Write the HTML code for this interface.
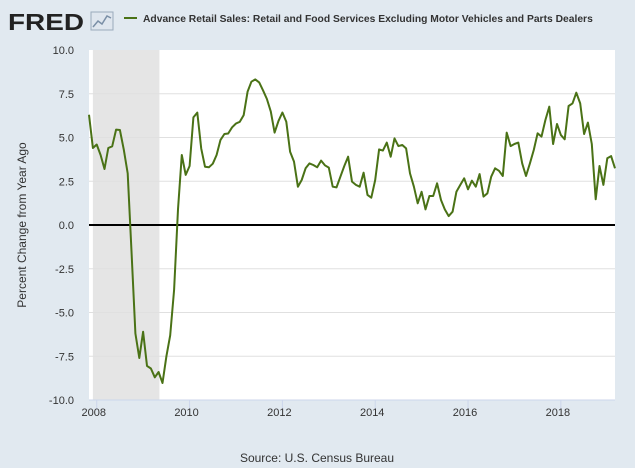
<!DOCTYPE html>
<html><head><meta charset="utf-8">
<style>
body{margin:0;background:#e1e9f0;font-family:"Liberation Sans",sans-serif;}
#wrap{position:relative;width:635px;height:468px;overflow:hidden;background:#e1e9f0;}
</style></head>
<body>
<div id="wrap">
<svg id="chart" width="635" height="468" xmlns="http://www.w3.org/2000/svg">
  <g>
    <text x="8" y="30" font-family="Liberation Sans, sans-serif" font-size="23" font-weight="bold" fill="#222" textLength="76" lengthAdjust="spacingAndGlyphs">FRED</text>
    <rect x="91" y="12" width="22" height="18" fill="#dfe6ee" stroke="#9aaabb" stroke-width="1"/>
    <polyline points="93,27 98,21 102,24 107,16 111,18" fill="none" stroke="#7a8fa6" stroke-width="1.5"/>
  </g>
  <line x1="124" y1="18" x2="137" y2="18" stroke="#4a7216" stroke-width="2"/>
  <text x="143" y="22" font-size="10.3" font-weight="bold" fill="#333">Advance Retail Sales: Retail and Food Services Excluding Motor Vehicles and Parts Dealers</text>
  <rect x="89" y="50" width="526" height="350" fill="#fff"/>
  <g id="rec"></g>
  <g id="grid"></g>
  <g id="yticks"></g>
  <g id="xticks"></g>
  <g id="series"></g>
  <text transform="translate(26,225) rotate(-90)" text-anchor="middle" font-size="12" fill="#333">Percent Change from Year Ago</text>
  <text x="317" y="462" text-anchor="middle" font-size="12" fill="#333">Source: U.S. Census Bureau</text>
</svg>
</div>
<script>
const startYear = 2007;
const startMonth = 10; // 0-based: Nov
const values = [6.3,4.4,4.6,4.0,3.2,4.4,4.5,5.45,5.43,4.3,2.95,-1.5,-6.2,-7.6,-6.1,-8.05,-8.2,-8.7,-8.4,-9.03,-7.5,-6.3,-3.7,0.9,4.0,2.86,3.37,6.15,6.42,4.38,3.33,3.3,3.5,4.0,4.86,5.2,5.23,5.58,5.8,5.9,6.28,7.62,8.19,8.32,8.15,7.7,7.2,6.48,5.28,5.95,6.43,5.9,4.19,3.62,2.19,2.57,3.24,3.52,3.43,3.3,3.68,3.41,3.28,2.19,2.15,2.76,3.37,3.9,2.48,2.29,2.19,
2.99,1.72,1.56,2.57,4.32,4.25,4.71,3.9,4.95,4.51,4.57,4.38,2.95,2.19,1.24,1.9,0.89,1.66,1.66,2.38,1.43,0.89,0.51,0.76,1.9,2.29,2.67,2.04,2.53,2.19,2.91,1.62,1.81,2.76,3.24,3.1,2.8,5.28,4.51,4.63,4.71,3.52,2.8,3.52,4.29,5.24,5.05,6.0,6.76,4.63,5.77,5.14,4.9,6.8,6.95,7.56,6.95,5.2,5.85,4.63,1.47,3.37,2.29,3.81,3.94,3.24];
const yTicks = [10,7.5,5,2.5,0,-2.5,-5,-7.5,-10];
const yTickLabels = ["10.0","7.5","5.0","2.5","0.0","-2.5","-5.0","-7.5","-10.0"];
const xTicks = [2008,2010,2012,2014,2016,2018];
const recession = [2007.917, 2009.35];

const NS="http://www.w3.org/2000/svg";
const X0=89, X1=615, Y0=50, Y1=400;
const tStart = startYear + startMonth/12;
const tEnd = tStart + (values.length-1)/12;
function xs(t){return X0 + (t-tStart)/(tEnd-tStart)*(X1-X0);}
function ys(v){return Y1 - (v+10)/20*(Y1-Y0);}
function mk(tag, attrs, parent){const e=document.createElementNS(NS,tag);for(const k in attrs)e.setAttribute(k,attrs[k]);document.getElementById(parent).appendChild(e);return e;}

const r=mk('rect',{x:Math.max(X0,xs(recession[0])),y:Y0,width:xs(recession[1])-Math.max(X0,xs(recession[0])),height:Y1-Y0,fill:'#e5e5e5'},'rec');



yTicks.forEach((v,i)=>{
  if(v!==0 && Math.abs(v)!==10){
    const g=mk('line',{x1:X0,x2:X1,y1:ys(v),y2:ys(v),stroke:'#e0e0e0','stroke-width':1},'grid');
    
    
  }
  const t=mk('text',{x:74,y:ys(v)+4,'text-anchor':'end','font-size':11,fill:'#333'},'yticks');
  t.textContent=yTickLabels[i];
  
  
});
const ax=mk('line',{x1:X0,x2:X1,y1:Y1,y2:Y1,stroke:'#ccd6eb','stroke-width':1},'xticks');


xTicks.forEach(yr=>{
  const x=xs(yr);
  const tk=mk('line',{x1:x,x2:x,y1:Y1,y2:Y1+10,stroke:'#ccd6eb','stroke-width':1},'xticks');
  
  
  const t=mk('text',{x:x-3,y:Y1+16,'text-anchor':'middle','font-size':11,fill:'#333'},'xticks');
  t.textContent=yr;
  
  
});
const z=mk('line',{x1:X0,x2:X1,y1:ys(0),y2:ys(0),stroke:'#000','stroke-width':2},'series');


const pts=values.map((v,i)=>xs(tStart+i/12).toFixed(1)+','+ys(v).toFixed(1)).join(' ');
const pl=mk('polyline',{points:pts,fill:'none',stroke:'#4a7216','stroke-width':2,'stroke-linejoin':'round'},'series');


</script>
</body></html>
